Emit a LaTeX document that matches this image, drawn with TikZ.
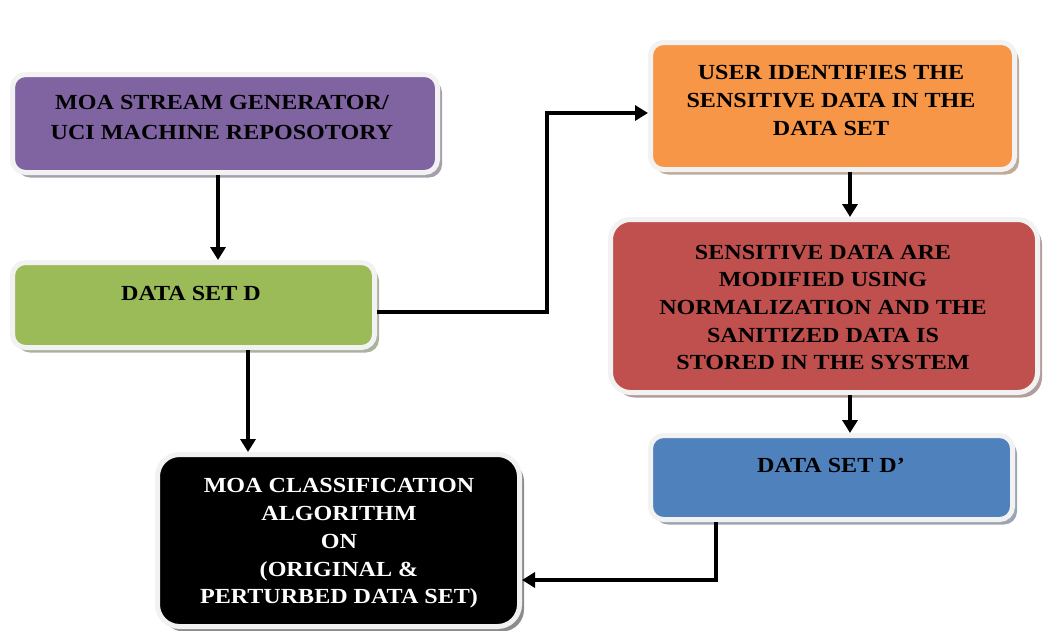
\documentclass[tikz,border=0pt]{standalone}
\usepackage{fontspec}
\setmainfont{Liberation Serif}[FakeStretch=1.12]
\usetikzlibrary{shadows,arrows.meta,calc}
\definecolor{cpurple}{HTML}{8064A2}
\definecolor{cgreen}{HTML}{9BBB59}
\definecolor{corange}{HTML}{F79646}
\definecolor{cred}{HTML}{C0504D}
\definecolor{cblue}{HTML}{4F81BD}
\definecolor{cborder}{HTML}{F2F2F2}
\tikzset{
  box/.style={draw=cborder, line width=5pt, rounded corners=13pt, fill=#1,
    drop shadow={shadow xshift=4.5pt, shadow yshift=-5pt, fill=#1!45!black, opacity=0.45}},
  txt/.style={align=center, font=\fontsize{21.5}{27.7}\selectfont\bfseries, text=black, inner sep=0pt},
  arr/.style={line width=4.5pt, -{Triangle[length=13pt,width=15pt]}},
}
\begin{document}
\begin{tikzpicture}[x=1pt,y=-1pt]
\useasboundingbox (0,0) rectangle (1046,630);
% boxes
\node[box=cpurple, minimum width=425pt, minimum height=98pt] (p) at (225,123.5) {};
\node[box=cgreen, minimum width=362pt, minimum height=85pt] (g) at (193.5,305) {};
\node[box=corange, minimum width=364pt, minimum height=127pt] (o) at (832.5,106) {};
\node[box=cred, minimum width=427pt, minimum height=173pt, rounded corners=20pt] (r) at (824,306) {};
\node[box=cblue, minimum width=362pt, minimum height=84pt] (b) at (831.5,477.5) {};
\node[box=black, minimum width=362pt, minimum height=172pt, rounded corners=22pt] (k) at (338.5,540.5) {};
% texts
\node[txt] (pt) at (222,117) {MOA STREAM GENERATOR/\\[2.3pt]UCI MACHINE REPOSOTORY};
\node[txt] (gt) at (191,293) {DATA SET D};
\node[txt] (ot) at (831,100.5) {USER IDENTIFIES THE\\SENSITIVE DATA IN THE\\DATA SET};
\node[txt] (rt) at (823,307.5) {SENSITIVE DATA ARE\\MODIFIED USING\\NORMALIZATION AND THE\\SANITIZED DATA IS\\STORED IN THE SYSTEM};
\node[txt] (bt) at (831,465) {DATA SET D’};
\node[txt, text=white] (kt) at (339,543.5) {MOA CLASSIFICATION\\ALGORITHM\\ON\\(ORIGINAL \&\\PERTURBED DATA SET)};
% connector coordinates
\coordinate (x1) at (218,0);
\coordinate (x2) at (248,0);
\coordinate (c1) at (547,113);
\coordinate (x3) at (850,0);
\coordinate (c3) at (716,580);
% connectors
\draw[arr] (p.south -| x1) -- (g.north -| x1);
\draw[arr] (g.south -| x2) -- (k.north -| x2);
\draw[arr] ([yshift=-7pt]g.east) -| (c1) -- (c1 -| o.west);
\draw[arr] (o.south -| x3) -- (r.north -| x3);
\draw[arr] (r.south -| x3) -- (b.north -| x3);
\draw[arr] (b.south -| c3) -- (c3) -- (c3 -| k.east);
\end{tikzpicture}
\end{document}
